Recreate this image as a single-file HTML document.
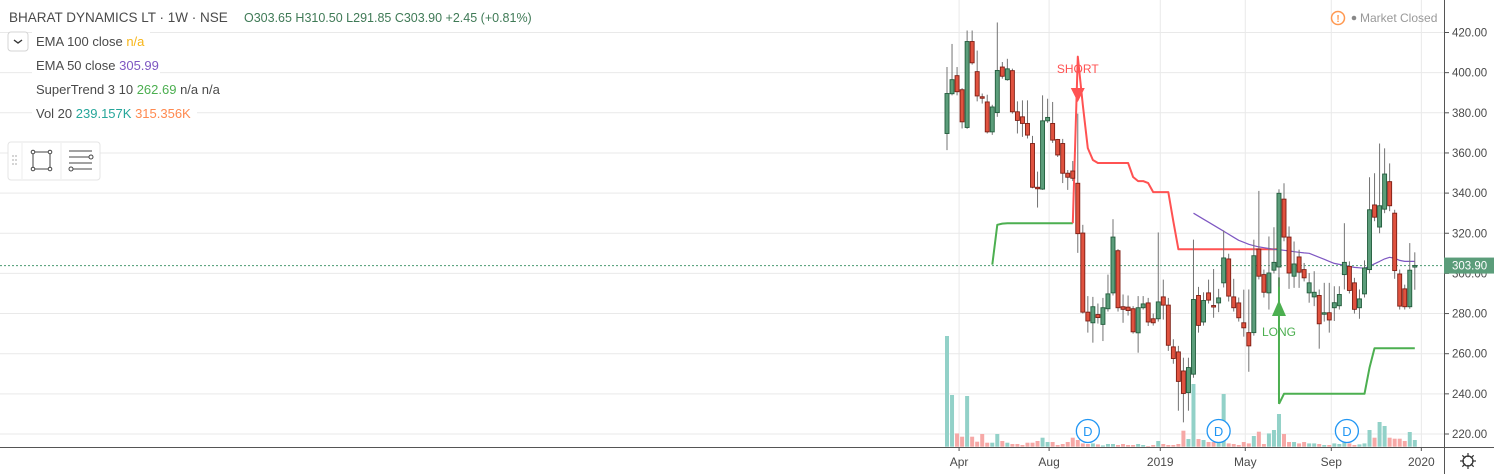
<!DOCTYPE html>
<html><head><meta charset="utf-8"><style>
html,body{margin:0;padding:0;background:#fff;}
svg{display:block;font-family:"Liberation Sans","DejaVu Sans",sans-serif;}
</style></head><body>
<svg id="chart" width="1494" height="474" viewBox="0 0 1494 474">
<g id="grid"></g>
<g id="vol"></g>
<g id="lines"></g>
<g id="candles"></g>
<g id="axis"></g>
<g id="legend">
<rect x="0" y="0" width="720" height="30" fill="#fff"/>
<text x="9" y="22" font-size="13.5" fill="#4a4a4a">BHARAT DYNAMICS LT · 1W · NSE</text>
<text x="244" y="22" font-size="12.5" fill="#3f7a56">O303.65  H310.50  L291.85  C303.90  +2.45 (+0.81%)</text>
<rect x="8" y="32" width="20" height="19" rx="3" fill="#fff" stroke="#d4d4d4"/>
<path d="M14 40 l4 3 l4 -3" fill="none" stroke="#333" stroke-width="1.4"/>
<rect x="32" y="31" width="118" height="20" fill="#fff"/>
<text x="36" y="46" font-size="13" fill="#4a4a4a">EMA 100 close <tspan fill="#f7b518">n/a</tspan></text>
<rect x="32" y="54" width="128" height="20" fill="#fff"/>
<text x="36" y="70" font-size="13" fill="#4a4a4a">EMA 50 close <tspan fill="#7e57c2">305.99</tspan></text>
<rect x="32" y="78" width="205" height="20" fill="#fff"/>
<text x="36" y="94" font-size="13" fill="#4a4a4a">SuperTrend 3 10 <tspan fill="#4caf50">262.69</tspan> n/a n/a</text>
<rect x="32" y="102" width="165" height="20" fill="#fff"/>
<text x="36" y="118" font-size="13" fill="#4a4a4a">Vol 20 <tspan fill="#26a69a">239.157K</tspan> <tspan fill="#ff8a50">315.356K</tspan></text>
<g>
<rect x="8" y="142" width="92" height="38" rx="3" fill="#fff" stroke="#e4e4e4"/>
<line x1="22" y1="143" x2="22" y2="179" stroke="#ececec"/><line x1="61" y1="143" x2="61" y2="179" stroke="#ececec"/>
<g fill="#c8c8c8"><circle cx="13" cy="156" r="1"/><circle cx="16" cy="156" r="1"/><circle cx="13" cy="160" r="1"/><circle cx="16" cy="160" r="1"/><circle cx="13" cy="164" r="1"/><circle cx="16" cy="164" r="1"/></g>
<g fill="#fff" stroke="#444" stroke-width="1"><rect x="33" y="152" width="17" height="17"/><circle cx="33" cy="152" r="1.8"/><circle cx="50" cy="152" r="1.8"/><circle cx="33" cy="169" r="1.8"/><circle cx="50" cy="169" r="1.8"/></g>
<g stroke="#444" fill="#fff"><line x1="69" y1="151" x2="92" y2="151"/><line x1="69" y1="157" x2="89" y2="157"/><line x1="69" y1="163" x2="92" y2="163"/><line x1="73" y1="169" x2="92" y2="169"/><circle cx="91" cy="157" r="2"/><circle cx="71" cy="169" r="2"/></g>
</g>
<circle cx="1338" cy="18" r="6.5" fill="#fff" stroke="#ff9850" stroke-width="1.5"/>
<text x="1338" y="22" font-size="10" font-weight="bold" fill="#ff9850" text-anchor="middle">!</text>
<circle cx="1354" cy="18" r="2.3" fill="#888"/>
<text x="1360" y="22" font-size="12" fill="#999">Market Closed</text>
</g>
</svg>
<script>
const opens=[369.7,389.5,398.5,391.5,372.7,415.5,400.5,388,385.4,370.5,380.1,402.8,396.5,401,380.5,378,374.7,364.7,342.9,342,376,374.7,366.7,364.7,349.9,351,344.9,320.1,280.7,275.4,279.5,274.6,282.4,290.3,311.3,283.4,283.2,282.4,270.4,282.9,285.3,277.4,277.4,288.3,284.2,263.4,260.9,251.4,240.6,249.8,289,275.8,290.3,284,285.3,295.3,307.2,288.3,285.3,275.4,270.5,270.5,312.1,299.4,290.3,301.6,303.2,337,318.1,298.6,308.2,301.9,290.3,288.3,289,280.4,280.4,282.9,283.9,299.4,303.5,295.3,282.9,289.8,301.9,334.1,323.1,332,345.7,330,299.7,292.3,283.4,303.65];
const highs=[402.8,414.3,402.8,392.3,421,421,411,389.6,389,384,425,405.3,406.9,402,385.7,386.2,386.2,368.5,350.7,388.7,387,385.4,367,367,351.5,356,379.6,324.2,288.7,288.3,285,287.8,299.4,327,312.1,289.5,289,283.7,288.7,288.7,287.8,280,320.4,296.9,287.8,267.2,263.9,258,258,316.8,293.3,290.6,296.9,302.2,292.3,321.4,309.8,297.3,288,291.9,292,316.8,341.1,301.9,318.4,323,341.9,344.9,323.4,315.9,311.8,305.2,300.2,301.1,292,295.3,295.3,293.6,293.6,325,306,297.8,292,306.5,347.9,349.9,364.7,362.3,354.8,331.7,301.9,294.4,315.1,310.5];
const lows=[361.4,388.7,388.7,372.2,372,404,385.7,384.6,369.7,369,378,397,396,379.6,369.7,368,367.2,342.4,332.8,341.6,375,365,358,345,341.6,346,310.2,280,270.5,265.5,275,266.3,281,289,281,275.4,279,270,260.5,282,273.8,274,276,277,261.4,255,231.6,225.8,231.6,248,270.5,274,285,277.9,280.7,293,286,281,276,268.5,251,269,297,288,282,300,293.3,316,292.3,292.8,292.8,296,285.4,283.7,262.5,276,270.5,276.3,282,292,290,280,277.4,288,300,326,320,330,331,297.3,282,282,282.4,291.85];
const closes=[389.6,396.5,390.5,375.5,415.5,404.9,388.4,387.8,370.5,382.9,401.1,398.2,401.9,380.5,376.2,374.7,368.9,342.9,342.4,376,377.7,366.4,359,349.9,347.9,347.4,319.8,280.7,276.3,283.4,278,282.9,289.8,318.1,282.9,282.1,281.5,270.9,282.9,284.8,275.8,275.4,285.8,284.2,264.2,257.6,246.2,240.2,253.1,287,274.1,286.5,286.7,283.4,287.8,307.7,288.7,282.9,277.9,272.9,263.9,308.8,298.6,290.6,300.2,305.5,339.9,318.1,300.2,304.7,300.6,297.8,295.3,290.6,274.9,280.4,276.8,285.4,289.5,305.5,291.5,282.1,287.3,302.7,331.7,328,333.7,349.5,333.7,301.4,283.7,283.4,301.6,303.9];
const volumes=[1107,517,133,100,507,100,50,127,40,40,127,57,40,27,27,17,40,40,57,90,47,47,17,27,47,90,67,33,27,33,23,13,27,27,17,27,17,17,27,17,7,17,57,27,17,17,27,160,77,627,77,67,47,47,67,527,33,27,17,47,33,107,150,27,133,167,327,127,47,47,33,47,33,33,27,17,17,33,27,40,33,17,23,33,167,90,247,207,90,80,80,57,147,67];
const emaStart=49;
const ema50=[330,328.5,327,325.5,324,322.5,321,319.5,318,316.5,315.5,314.5,313.8,313.2,312.8,312.4,312,311.8,311.5,311.2,310.8,310.5,310.2,310,309,308,307,306,305,304.5,304,303.5,303,302.8,302.6,303.5,304.8,306,307.2,308,307.5,306.5,306,306,306];
const stGreen1Start=9;
const stGreen1=[304.4,324.2,324.8,325,325,325,325,325,325,325,325,325,325,325,325,325,325];
const stRedStart=25;
const stRed=[325,408,384,362.4,356.5,355,355,355,355,355,355,355,348,346,346,345,340.5,340.5,340.5,340.5,326,312,312,312,312,312,312,312,312,312,312,312,312,312,312,312,312,312,312,312,312,312];
const stGreen2Start=66;
const stGreen2=[235,240,240,240,240,240,240,240,240,240,240,240,240,240,240,240,240,240,253,262.7,262.7,262.7,262.7,262.7,262.7,262.7,262.7,262.7];
const priceTicks=[420,400,380,360,340,320,300,280,260,240,220];
const timeLabels=["Apr","Aug","2019","May","Sep","2020"];
const timeLabelIdx=[2.4,20.3,42.4,59.3,76.4,94.3];
const lastPrice=303.9;
const shortIdx=26, longIdx=66;
const dividendIdx=[28,54,79.5];

const NS="http://www.w3.org/2000/svg";
const X0=947, DX=5.03;
const xOf=i=>X0+i*DX;
const yOf=v=>32.5+(420-v)*2.0075;
const VBASE=446.7;
const vY=v=>v*0.1;
function mk(parent,tag,attrs){const e=document.createElementNS(NS,tag);for(const k in attrs)e.setAttribute(k,attrs[k]);parent.appendChild(e);return e;}
const grid=document.getElementById('grid'),vol=document.getElementById('vol'),lines=document.getElementById('lines'),cg=document.getElementById('candles'),axis=document.getElementById('axis');

priceTicks.forEach(p=>{const l=mk(grid,'line',{x1:0,x2:1444,y1:yOf(p),y2:yOf(p),stroke:'#e9e9e9'});

});
timeLabelIdx.forEach(i=>{const l=mk(grid,'line',{x1:xOf(i),x2:xOf(i),y1:0,y2:447,stroke:'#e9e9e9'});

});

volumes.forEach((v,i)=>{const up=closes[i]>=opens[i];const h=vY(v);
const r=mk(vol,'rect',{x:xOf(i)-2,y:VBASE-h,width:4,height:h,fill:up?'#92d1c8':'#f6a8a6'});

});

function poly(arr,start,color,w,name){const pts=arr.map((v,k)=>xOf(start+k).toFixed(1)+','+yOf(v).toFixed(1)).join(' ');
const p=mk(lines,'polyline',{points:pts,fill:'none',stroke:color,'stroke-width':w,'stroke-linejoin':'round'});

}
poly(stGreen1,stGreen1Start,'#4caf50',2,'supertrend-up-line');
poly(stRed,stRedStart,'#ff5252',2,'supertrend-down-line');
poly(stGreen2,stGreen2Start,'#4caf50',2,'supertrend-up-line-2');
poly(ema50,emaStart,'#7e57c2',1.2,'ema50-line');

// long arrow vertical
const la=mk(lines,'line',{x1:xOf(longIdx),x2:xOf(longIdx),y1:yOf(298),y2:yOf(235),stroke:'#4caf50','stroke-width':2});


const lt=mk(lines,'polygon',{points:`${xOf(longIdx)-7},316 ${xOf(longIdx)+7},316 ${xOf(longIdx)},300`,fill:'#4caf50'});


const ltx=mk(lines,'text',{x:xOf(longIdx),y:336,'font-size':12,fill:'#4caf50','text-anchor':'middle'});ltx.textContent='LONG';


const st=mk(lines,'polygon',{points:`${xOf(shortIdx)-7},88 ${xOf(shortIdx)+7},88 ${xOf(shortIdx)},102`,fill:'#ff5252'});


const stx=mk(lines,'text',{x:xOf(shortIdx),y:73,'font-size':12,fill:'#ff5252','text-anchor':'middle'});stx.textContent='SHORT';



opens.forEach((o,i)=>{const c=closes[i],up=c>=o,x=xOf(i);
const w=mk(cg,'line',{x1:x,x2:x,y1:yOf(highs[i]),y2:yOf(lows[i]),stroke:'#737373','stroke-width':1});


const top=yOf(Math.max(o,c)),h=Math.max(1.5,Math.abs(yOf(o)-yOf(c)));
const b=mk(cg,'rect',{x:x-2,y:top,width:4,height:h,fill:up?'#5b9d7a':'#e0523f',stroke:up?'#225c3c':'#7d1e14','stroke-width':0.9});

});

// last price line
const lp=mk(lines,'line',{x1:0,x2:1444,y1:yOf(lastPrice),y2:yOf(lastPrice),stroke:'#4a9a70','stroke-dasharray':'2,2','stroke-width':1});



dividendIdx.forEach(i=>{const g=mk(cg,'g',{});


mk(g,'circle',{cx:xOf(i),cy:431,r:11.5,fill:'#fff',stroke:'#2196f3','stroke-width':1.3});
const t=mk(g,'text',{x:xOf(i),y:436,'font-size':13,fill:'#2196f3','text-anchor':'middle'});t.textContent='D';});

// axes
mk(axis,'rect',{x:1444,y:0,width:50,height:474,fill:'#fff'});
mk(axis,'rect',{x:0,y:447,width:1494,height:27,fill:'#fff'});
mk(axis,'line',{x1:1444.5,x2:1444.5,y1:0,y2:474,stroke:'#555'});
mk(axis,'line',{x1:0,x2:1494,y1:447.5,y2:447.5,stroke:'#555'});
priceTicks.forEach(p=>{mk(axis,'line',{x1:1444,x2:1449,y1:yOf(p),y2:yOf(p),stroke:'#555'});
const t=mk(axis,'text',{x:1452,y:yOf(p)+4,'font-size':11.5,fill:'#4a4a4a'});t.textContent=p.toFixed(2);

});
timeLabelIdx.forEach((i,k)=>{mk(axis,'line',{x1:xOf(i),x2:xOf(i),y1:447,y2:451,stroke:'#555'});
const t=mk(axis,'text',{x:xOf(i),y:466,'font-size':12,fill:'#4a4a4a','text-anchor':'middle'});t.textContent=timeLabels[k];

});
const pl=mk(axis,'rect',{x:1444,y:yOf(lastPrice)-8,width:50,height:16,fill:'#5b9d7a'});


const plt=mk(axis,'text',{x:1452,y:yOf(lastPrice)+4,'font-size':11.5,fill:'#fff'});plt.textContent=lastPrice.toFixed(2);
const gear=mk(axis,'g',{});


mk(gear,'circle',{cx:1468,cy:461,r:5,fill:'none',stroke:'#333','stroke-width':1.3});
[0,45,90,135].forEach(a=>{const r=a*Math.PI/180;mk(gear,'line',{x1:1468-8*Math.cos(r),y1:461-8*Math.sin(r),x2:1468+8*Math.cos(r),y2:461+8*Math.sin(r),stroke:'#333','stroke-width':1.2});});
mk(gear,'circle',{cx:1468,cy:461,r:4,fill:'#fff'});
</script>
</body></html>
